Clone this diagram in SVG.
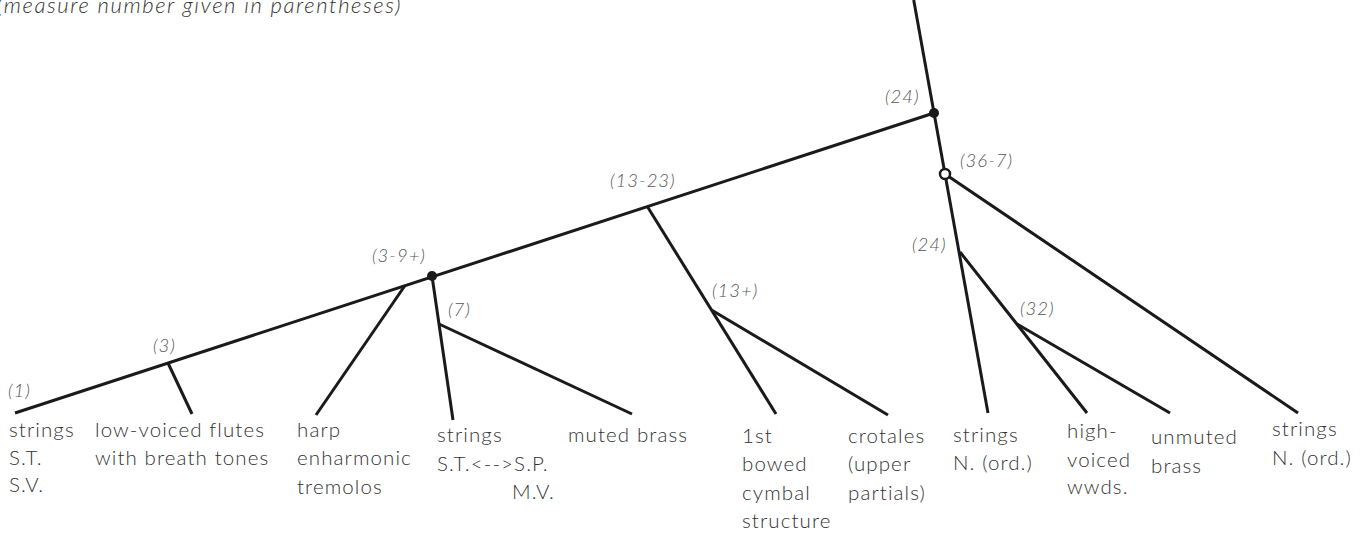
<svg xmlns="http://www.w3.org/2000/svg" width="1365" height="535" viewBox="0 0 1365 535">
<style>
.e{stroke:#1a1a1a;stroke-width:3;fill:none;stroke-linecap:butt}
.lbl{font-family:Lato,"Open Sans",sans-serif;font-weight:300;font-size:20.5px;letter-spacing:1.1px;fill:#333}
.m{font-family:Lato,"Open Sans",sans-serif;font-weight:300;font-style:italic;font-size:18.5px;letter-spacing:1px;fill:#555}
.t{font-family:Lato,"Open Sans",sans-serif;font-weight:300;font-style:italic;font-size:22px;letter-spacing:1.6px;fill:#333}
.dot{fill:#1a1a1a}
.ring{fill:#fff;stroke:#1a1a1a;stroke-width:2.5}
</style>
<rect width="1365" height="535" fill="#fff"/>
<text class="t" x="-3" y="13">(measure number given in parentheses)</text>
<g id="connectors">
<line class="e" x1="913.7" y1="0" x2="988" y2="413"/>
<line class="e" x1="15" y1="413" x2="934" y2="113"/>
<line class="e" x1="168" y1="363" x2="192" y2="414"/>
<line class="e" x1="405" y1="285.5" x2="316" y2="415"/>
<line class="e" x1="432" y1="276" x2="453" y2="420"/>
<line class="e" x1="439" y1="324" x2="632" y2="414"/>
<line class="e" x1="647" y1="206" x2="776" y2="414"/>
<line class="e" x1="711.5" y1="310" x2="888" y2="415"/>
<line class="e" x1="945" y1="174" x2="1298" y2="413"/>
<line class="e" x1="960" y1="252" x2="1087" y2="413"/>
<line class="e" x1="1017" y1="324" x2="1170" y2="413"/>
</g>
<g id="n_root"><circle class="dot" cx="934" cy="113" r="5"/><text class="m" x="885" y="103">(24)</text></g>
<g id="n_3_9"><circle class="dot" cx="432" cy="276" r="5"/><text class="m" x="372" y="262">(3-9+)</text></g>
<g id="n_36_7"><circle class="ring" cx="945" cy="174" r="5"/><text class="m" x="960" y="167">(36-7)</text></g>
<g id="n_1"><text class="m" x="8" y="397">(1)</text></g>
<g id="n_3"><text class="m" x="153" y="352">(3)</text></g>
<g id="n_7"><text class="m" x="448" y="316">(7)</text></g>
<g id="n_13_23"><text class="m" x="610" y="187">(13-23)</text></g>
<g id="n_13p"><text class="m" x="712" y="297">(13+)</text></g>
<g id="n_24b"><text class="m" x="912" y="251">(24)</text></g>
<g id="n_32"><text class="m" x="1020" y="315">(32)</text></g>
<g id="leaf_strings_st"><text class="lbl" x="9" y="437">strings</text><text class="lbl" x="9" y="465">S.T.</text><text class="lbl" x="9" y="492">S.V.</text></g>
<g id="leaf_flutes"><text class="lbl" x="95" y="437">low-voiced flutes</text><text class="lbl" x="95" y="465">with breath tones</text></g>
<g id="leaf_harp"><text class="lbl" x="297" y="437">harp</text><text class="lbl" x="297" y="465">enharmonic</text><text class="lbl" x="297" y="494">tremolos</text></g>
<g id="leaf_strings_stsp"><text class="lbl" x="437" y="442">strings</text><text class="lbl" x="437" y="471">S.T.&lt;--&gt;S.P.</text><text class="lbl" x="512" y="499">M.V.</text></g>
<g id="leaf_muted"><text class="lbl" x="568" y="442">muted brass</text></g>
<g id="leaf_cymbal"><text class="lbl" x="742" y="443">1st</text><text class="lbl" x="742" y="471">bowed</text><text class="lbl" x="742" y="500">cymbal</text><text class="lbl" x="742" y="528">structure</text></g>
<g id="leaf_crotales"><text class="lbl" x="848" y="443">crotales</text><text class="lbl" x="848" y="471">(upper</text><text class="lbl" x="848" y="500">partials)</text></g>
<g id="leaf_strings_n1"><text class="lbl" x="953" y="442">strings</text><text class="lbl" x="953" y="470">N. (ord.)</text></g>
<g id="leaf_wwds"><text class="lbl" x="1067" y="438">high-</text><text class="lbl" x="1067" y="467">voiced</text><text class="lbl" x="1067" y="494">wwds.</text></g>
<g id="leaf_unmuted"><text class="lbl" x="1151" y="444">unmuted</text><text class="lbl" x="1151" y="473">brass</text></g>
<g id="leaf_strings_n2"><text class="lbl" x="1272" y="436">strings</text><text class="lbl" x="1272" y="465">N. (ord.)</text></g>
</svg>
